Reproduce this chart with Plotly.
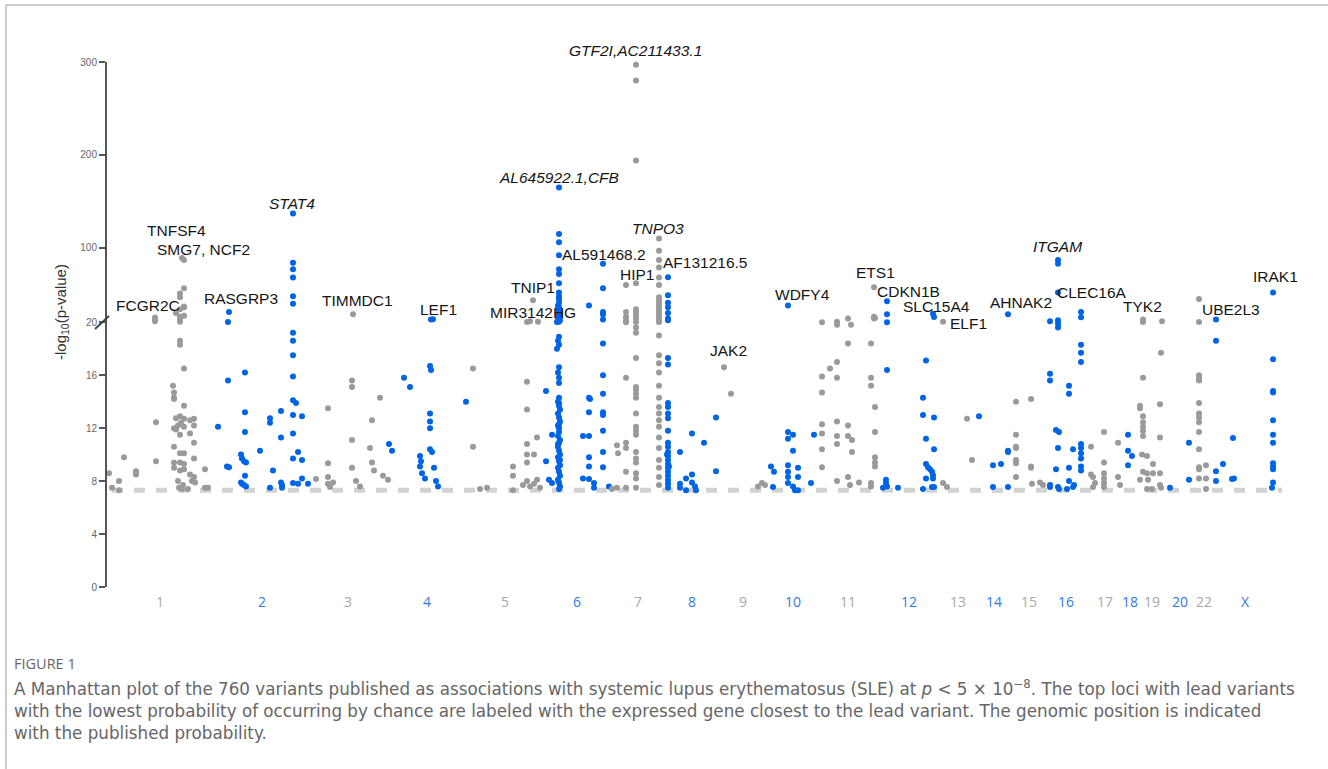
import plotly.graph_objects as go

# ---------------- data (position = cumulative genomic position, value = -log10 p) -------------
chr1 = [(109,8.6),(112,7.5),(119,7.3),(119,8.0),(124,9.8),(136,8.75),(136,8.5),(156,12.45),(156,9.5),(155,25),(155,21),(155,22.5),
        (173,15.2),(174,14.7),(174,14.3),(174,14.2),(184,13.7),(180,12.9),(176,12.75),(184,12.7),(174,12.0),(178,12.2),(181,12.4),
        (184,12.1),(176,11.9),(180,11.5),(174,10.6),(180,10.1),(184,10.1),(174,9.4),(180,9.4),(184,9.3),(174,9.0),(180,8.8),(184,8.9),
        (178,8.0),(183,7.7),(179,7.5),(182,7.4),(188,7.4),(190,12.6),(194,12.7),(194,12.2),(190,11.6),(194,10.9),(194,9.7),(190,8.5),
        (194,8.3),(192,8.0),(195,7.9),(205,8.9),(205,7.5),(208,7.5),(180,24),(180,20.5),(184,36),(180,18.6),(180,18.3),(184,16.5),
        (184,56.5),(180,51),(180,47),(182,89),(184,87),(184,37),(180,34),(184,27),(180,26),(176,30)]
chr2 = [(218,12.1),(228,15.6),(227,9.1),(229,9.05),(228,20.3),(229,31),(245,16.2),(245,13.2),(245,11.7),(241,10.0),(242,9.7),
        (244,9.5),(246,9.4),(245,8.4),(241,7.9),(242,7.8),(244,7.7),(246,7.6),(260,10.3),(270,12.75),(270,12.4),(273,8.8),(270,7.5),
        (281,13.3),(281,11.3),(281,7.9),(282,7.7),(282,7.5),(293,137),(293,84),(293,77),(293,68),(293,48),(293,40),(293,19.2),
        (293,18.6),(293,17.5),(293,15.9),(293,14.1),(296,13.9),(293,13.0),(302,12.9),(293,11.6),(293,9.7),(302,9.6),(298,10.2),
        (293,7.85),(298,7.8),(302,8.2),(308,7.8)]
chr3 = [(316,8.15),(328,13.5),(328,9.35),(328,8.3),(333,7.9),(328,7.8),(330,7.55),(352,15.6),(352,15.1),(352,11.1),(352,9.0),
        (353,28.6),(356,8.0),(360,7.6),(372,12.6),(370,10.5),(372,9.4),(374,8.8),(380,14.3),(383,8.4),(388,8.1)]
chr4 = [(389,10.8),(392,10.3),(404,15.8),(410,15.1),(420,9.9),(421,9.5),(420,9.1),(422,8.6),(425,8.2),(430,16.7),(431,16.4),
        (430,13.1),(430,12.5),(430,12.0),(430,10.4),(432,10.2),(434,9.0),(436,8.0),(438,7.6),(431,23),(433,23.3),(466,14.0)]
chr5 = [(473,16.5),(473,10.6),(480,7.4),(487,7.5),(513,9.1),(513,8.4),(513,7.3),(527,15.5),(527,13.4),(527,10.8),(527,10.0),
        (527,9.4),(534,10.0),(537,11.3),(523,7.7),(527,8.0),(530,7.6),(534,7.8),(537,8.1),(540,7.5),(533,43.6),(527,20.2),
        (530,21),(538,20.5)]
chr6 = [(559,165),(559,115),(559,106),(559,92),(559,77),(559,72),(559,62),(559,52),(559,48),(559,45),(559,41),(558,38),(559,36),
        (558,34),(559,32),(560,30),(558,29),(559,28),(558,27),(560,26),(559,25),(558,24),(559,23),(560,22),(558,21),(559,20.5),
        (557,20.2),(559,18.9),(558,18.6),(559,18.3),(557,18.0),(559,16.6),(558,16.2),(559,15.8),(559,15.4),(559,14.3),(558,14.0),
        (559,13.7),(560,13.4),(558,13.1),(559,12.8),(560,12.5),(558,12.2),(559,12.0),(559,11.7),(558,11.4),(560,11.1),(559,10.9),
        (558,10.6),(559,10.3),(560,10.0),(558,9.8),(559,9.5),(560,9.2),(558,9.0),(559,8.7),(560,8.4),(558,8.1),(559,7.9),(560,7.6),
        (559,7.4),(559,13.9),(559,12.3),(558,10.8),(560,9.6),(546,14.8),(552,11.5),(546,9.5),(549,8.1),(552,7.85),
        (589,38),(589,14.3),(590,14.2),(589,13.2),(583,11.4),(589,11.4),(589,9.8),(589,9.1),(583,8.2),(589,8.15),(594,7.85),
        (594,7.5),(603,83),(603,56.5),(603,31),(603,28.6),(603,23),(603,18.4),(603,16),(603,14.6),(603,13.2),(603,13.0),
        (603,11.8),(603,10.2),(603,9.05),(609,7.6)]
chr7 = [(612,7.4),(617,10.7),(618,10.1),(617,7.5),(626,60),(626,31),(626,25.6),(626,22),(626,20),(626,15.8),(626,10.9),
        (626,10.5),(626,8.7),(626,7.5),(636,297),(636,280),(636,194),(636,62),(636,34),(636,31),(636,27),(636,24),(636,20.3),
        (636,19.6),(636,19.2),(636,17.3),(636,15.1),(636,14.9),(636,14.6),(636,14.3),(636,13.1),(636,12.1),(636,11.8),(636,11.5),
        (636,10.2),(636,9.7),(636,9.4),(636,8.6),(636,8.2),(636,7.5),(659,110),(659,97),(659,87),(659,79),(659,68),(659,60),
        (659,47),(659,44),(659,40),(659,36),(659,34),(659,31),(659,28),(659,25),(659,22),(659,20.3),(659,19.0),(659,17.5),
        (659,16.9),(659,16.2),(659,15.2),(659,14.3),(659,13.6),(659,13.1),(659,12.6),(659,12.1),(659,11.3),(659,10.5),(659,9.6),
        (659,9.0),(659,8.3),(659,7.7)]
chr8 = [(668,68.4),(668,49),(668,41),(668,36),(668,30),(668,24),(668,22),(668,17.3),(668,16.8),(668,13.9),(668,13.6),(668,13.1),
        (668,12.75),(668,11.8),(668,10.9),(668,10.6),(668,10.2),(668,9.9),(668,9.6),(668,9.3),(668,9.0),(668,8.7),(668,8.4),
        (668,8.1),(668,7.8),(668,7.5),(667,10.0),(669,9.1),(680,10.2),(692,11.6),(704,10.9),(680,7.8),(680,7.5),(686,8.2),
        (686,7.3),(692,8.5),(692,7.9),(695,7.6),(696,7.3),(716,12.8),(716,8.75)]
chr9 = [(724,16.6),(731,14.6),(758,7.6),(762,7.85),(765,7.7)]
chr10 = [(771,9.1),(774,8.7),(773,7.55),(788,38),(788,11.7),(788,11.2),(793,11.5),(793,10.3),(788,9.2),(788,8.7),(788,8.3),
         (788,7.85),(798,9.0),(798,8.3),(793,7.6),(795,7.3),(798,7.3),(811,7.85),(814,11.5)]
chr11 = [(822,20),(837,20.5),(837,19.8),(848,24),(851,19.8),(875,24.5),(848,18.4),(871,18.4),(822,15.9),(830,16.5),(837,17),
         (837,15.8),(822,14.7),(822,12.3),(822,11.6),(822,10.4),(822,9.05),(837,12.5),(837,11.4),(837,10.8),(848,12.2),
         (848,11.4),(852,11.1),(852,10.2),(837,8.0),(848,8.3),(850,7.7),(859,7.9),(871,15.8),(871,15.2),(875,13.6),(875,11.7),
         (875,9.8),(875,9.4),(875,9.1),(871,7.85),(871,7.6),(874,57.7),(874,26),(874,24)]
chr12 = [(887,42.6),(887,28.6),(887,20),(887,16.4),(886,8.1),(886,7.85),(883,7.5),(887,7.6),(898,7.5),(933,29),(934,25.7),
         (926,17.1),(923,14.3),(923,13.0),(934,12.8),(926,11.2),(934,10.4),(926,9.3),(928,9.05),(930,8.9),(932,8.7),(933,8.45),
         (926,8.2),(933,8.2),(932,7.55),(923,7.4),(934,7.55)]
chr13 = [(943,20.4),(943,7.85),(947,7.55),(967,12.7),(972,9.6)]
chr14 = [(979,12.9),(993,9.2),(1001,9.3),(1008,10.2),(1008,10.3),(993,7.55),(1008,7.55),(1008,28.6)]
chr15 = [(1016,14),(1031,14.2),(1016,11.5),(1016,10.6),(1016,10.5),(1016,9.6),(1016,9.35),(1031,9.1),(1031,9.0),(1016,8.3),
         (1032,7.8),(1040,7.9),(1043,7.7)]
chr16 = [(1058,87),(1058,83),(1058,52),(1050,21),(1058,22),(1058,19.9),(1058,19.6),(1050,16.1),(1050,15.6),(1056,11.85),
         (1059,11.7),(1058,10.5),(1056,8.9),(1050,7.7),(1050,7.55),(1058,7.55),(1059,7.4),(1067,7.4),(1069,15.2),(1069,14.6),
         (1069,9.0),(1073,10.4),(1069,8.0),(1073,7.55),(1074,7.7),(1081,31),(1081,25.4),(1081,18.3),(1081,17.7),(1081,17.0),
         (1081,10.8),(1081,10.5),(1081,10.1),(1081,9.7),(1081,9.1),(1081,8.8)]
chr17 = [(1091,10.6),(1091,8.5),(1093,8.3),(1095,7.85),(1093,7.55),(1104,11.7),(1104,9.4),(1104,8.6),(1104,8.2),(1104,7.85),
         (1104,7.55),(1118,10.9),(1118,8.3),(1120,7.7)]
chr18 = [(1128,11.5),(1128,10.3),(1132,9.9),(1128,9.2)]
chr19 = [(1143,23),(1143,20.3),(1162,21),(1161,17.7),(1143,15.8),(1140,13.7),(1140,13.5),(1143,12.9),(1143,12.45),(1143,12.1),
         (1143,11.8),(1143,11.4),(1160,13.8),(1160,11.3),(1142,10.0),(1147,9.9),(1153,9.3),(1143,8.7),(1147,8.6),(1153,8.6),
         (1160,8.6),(1140,8.1),(1148,8.1),(1160,7.7),(1161,7.5),(1147,7.4),(1152,7.4)]
chr20 = [(1170,7.5),(1189,10.9),(1189,8.1)]
chr21 = [(1199,45),(1199,20.3),(1199,16),(1199,15.8),(1199,15.6),(1199,13.9),(1199,13.1),(1199,12.8),(1199,12.45),(1199,11.7),
         (1199,10.4),(1199,9.05),(1199,8.9),(1206,9.2),(1199,8.2),(1206,8.2),(1206,7.4)]
chr22 = [(1216,23),(1216,18.6),(1223,9.3),(1216,8.75),(1216,8.0),(1233,11.25),(1232,8.15),(1234,8.2)]
chrX = [(1273,52),(1273,17.2),(1273,14.8),(1273,14.7),(1273,12.6),(1273,11.5),(1273,10.9),(1273,9.35),(1273,9.1),(1273,8.9),
        (1273,7.9),(1272,7.5)]

groups = [chr1, chr2, chr3, chr4, chr5, chr6, chr7, chr8, chr9, chr10, chr11, chr12, chr13, chr14, chr15, chr16,
          chr17, chr18, chr19, chr20, chr21, chr22, chrX]
group_is_blue = [0,1,0,1,0,1,0,1,0,1,0,1,0,1,0,1,0,1,0,1,0,1,1]

chrom_labels = ["1","2","3","4","5","6","7","8","9","10","11","12","13","14","15","16","17","18","19","20","22","X"]
chrom_label_pos = [160,262,348,427,505,577,638,692,743,793,848,909,958,994,1029,1066,1105,1130,1152,1180,1204,1245]
chrom_label_blue = [0,1,0,1,0,1,0,1,0,1,0,1,0,1,0,1,0,1,0,1,0,1]

gene_labels = ["FCGR2C","TNFSF4","SMG7, NCF2","<i>STAT4</i>","RASGRP3","TIMMDC1","LEF1","<i>GTF2I,AC211433.1</i>",
               "<i>AL645922.1,CFB</i>","TNIP1","MIR3142HG","AL591468.2","<i>TNPO3</i>","HIP1","AF131216.5","JAK2","WDFY4",
               "ETS1","CDKN1B","SLC15A4","ELF1","AHNAK2","<i>ITGAM</i>","CLEC16A","TYK2","UBE2L3","IRAK1"]
gene_label_pos = [148,176,203,292,241,357,438,635,559,533,533,604,658,637,705,728,802,875,908,936,968,1021,1057,1092,1142,1231,1275]
gene_label_val = [38,119,98.5,148,45.8,43.7,34,312.5,176,57.6,30.8,93,121,71.6,84.5,17.9,50,73.7,53.3,37.2,19.9,41.5,101,52,37.2,34,69.7]

y_ticks = [0, 4, 8, 12, 16, 20, 100, 200, 300]
threshold = 7.3

caption_lines = [
    "A Manhattan plot of the 760 variants published as associations with systemic lupus erythematosus (SLE) at <i>p</i> &lt; 5 × 10<sup>−8</sup>. The top loci with lead variants",
    "with the lowest probability of occurring by chance are labeled with the expressed gene closest to the lead variant. The genomic position is indicated",
    "with the published probability.",
]

GRAY = "#9a9a9a"
BLUE = "#0064e6"
LBL_GRAY = "#a8a8a8"
LBL_BLUE = "#2f7be0"


def tr(v):
    """broken axis: linear up to 20, compressed above"""
    return v if v <= 20 else 20 + (v - 20) * 0.0702


YMAX = tr(300)

fig = go.Figure()
for g, b in zip(groups, group_is_blue):
    fig.add_trace(go.Scatter(
        x=[p for p, _ in g], y=[tr(v) for _, v in g], mode="markers",
        marker=dict(size=6, color=BLUE if b else GRAY, line=dict(width=0)),
        showlegend=False, hoverinfo="skip", cliponaxis=False))

W, H = 1328, 769
L, R, T, B = 107, 38, 62, 182
PW, PH = W - L - R, H - T - B


def px(xp):
    return (xp - L) / PW


def py(yp):
    return (H - B - yp) / PH


ann = []
for t, x, v in zip(gene_labels, gene_label_pos, gene_label_val):
    ann.append(dict(x=x, y=tr(v) / YMAX, xref="x", yref="paper", xanchor="center", yanchor="middle",
                    text=t, showarrow=False,
                    font=dict(family="Liberation Sans, Arial", size=15.5, color="#151515")))
for t, x, b in zip(chrom_labels, chrom_label_pos, chrom_label_blue):
    ann.append(dict(x=x, y=py(601), xref="x", yref="paper", xanchor="center", yanchor="middle", text=t,
                    showarrow=False, font=dict(family="Open Sans", size=14, color=LBL_BLUE if b else LBL_GRAY)))
ann.append(dict(x=px(61), y=py(312), xref="paper", yref="paper", xanchor="center", yanchor="middle",
                text="-log<sub>10</sub>(p-value)", textangle=-90, showarrow=False,
                font=dict(family="Liberation Sans, Arial", size=15, color="#333")))
ann.append(dict(x=px(12), y=py(663), xref="paper", yref="paper", xanchor="left", yanchor="middle", text="FIGURE 1",
                showarrow=False, font=dict(family="Open Sans", size=14.5, color="#666")))
ann.append(dict(x=px(12), y=py(675), xref="paper", yref="paper", xanchor="left", yanchor="top", align="left",
                text="<br>".join(caption_lines), showarrow=False,
                font=dict(family="DejaVu Sans", size=16.75, color="#666")))

shapes = [
    dict(type="line", xref="x", yref="y", x0=112, x1=1282, y0=tr(threshold), y1=tr(threshold),
         line=dict(color="#d2d2d2", width=5, dash="11px,11px"), layer="below"),
    dict(type="line", xref="paper", yref="paper", x0=px(95), x1=px(109), y0=py(329), y1=py(316),
         line=dict(color="#444", width=2)),
    dict(type="rect", xref="paper", yref="paper", x0=px(6), x1=px(1400), y0=py(800), y1=py(5),
         line=dict(color="#9a9a9a", width=1)),
]

fig.update_layout(
    width=W, height=H, margin=dict(l=L, r=R, t=T, b=B),
    paper_bgcolor="white", plot_bgcolor="white",
    xaxis=dict(range=[L, W - R], showgrid=False, zeroline=False, showticklabels=False, showline=False, ticks=""),
    yaxis=dict(range=[0, YMAX], showgrid=False, zeroline=False, showline=True, linecolor="#555", linewidth=2,
               ticks="outside", ticklen=6, tickcolor="#555", tickwidth=1.5,
               tickvals=[tr(v) for v in y_ticks], ticktext=[str(v) for v in y_ticks],
               tickfont=dict(family="Liberation Sans, Arial", size=10, color="#666")),
    annotations=ann, shapes=shapes,
)

fig.write_html("out.html", config={"displayModeBar": False},
               post_script="document.body.style.margin='0px';document.body.style.overflow='hidden';")
